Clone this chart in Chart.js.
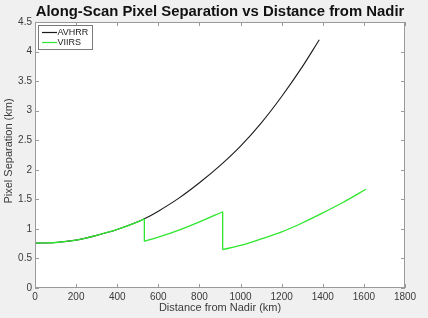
<!DOCTYPE html>
<html>
<head>
<meta charset="utf-8">
<script src="https://cdn.jsdelivr.net/npm/chart.js@4/dist/chart.umd.min.js"></script>
<style>
html,body{margin:0;padding:0;background:#f0f0f0;}
canvas{display:block;}
</style>
</head>
<body>
<canvas id="c" width="428" height="318"></canvas>
<script>
// ---- data ----
const titleText = "Along-Scan Pixel Separation vs Distance from Nadir";
const xTitle = "Distance from Nadir (km)";
const yTitle = "Pixel Separation (km)";
const seriesNames = ["AVHRR", "VIIRS"];
const xTicks = [0, 200, 400, 600, 800, 1000, 1200, 1400, 1600, 1800];
const yTicks = [0, 0.5, 1, 1.5, 2, 2.5, 3, 3.5, 4, 4.5];

const avhrrDist = [0, 100, 200, 300, 400, 500, 532, 600, 700, 800, 900, 1000, 1100, 1200, 1300, 1383];
const avhrrSep  = [0.76, 0.77, 0.81, 0.89, 0.99, 1.12, 1.17, 1.30, 1.52, 1.78, 2.07, 2.40, 2.79, 3.24, 3.74, 4.20];

const viirsDist = [0, 100, 200, 300, 400, 500, 532, 532, 600, 700, 800, 913, 913, 1000, 1100, 1200, 1300, 1400, 1500, 1610];
const viirsSep  = [0.76, 0.77, 0.81, 0.89, 0.99, 1.12, 1.17, 0.79, 0.86, 0.98, 1.12, 1.29, 0.65, 0.72, 0.83, 0.95, 1.10, 1.27, 1.45, 1.67];

const colors = ["#1a1a1a", "#2ee62e"];

function pts(xs, ys){ return xs.map((x,i)=>({x:x, y:ys[i]})); }

// split a series into smooth pieces and vertical jumps (where x repeats)
function pieces(xs, ys){
  const all = pts(xs, ys);
  const segs = [], jumps = [];
  let cur = [all[0]];
  for (let i = 1; i < all.length; i++){
    if (all[i].x === all[i-1].x){
      segs.push(cur);
      jumps.push([all[i-1], all[i]]);
      cur = [all[i]];
    } else cur.push(all[i]);
  }
  segs.push(cur);
  return {segs, jumps};
}

const FONT = "'Liberation Sans', Arial, Helvetica, sans-serif";
const AXIS_COLOR = "#9a9a9a";
const TEXT_COLOR = "#3a3a3a";

const decor = {
  id: 'decor',
  beforeDraw(chart){
    const {ctx, chartArea:a} = chart;
    ctx.save();
    ctx.fillStyle = '#f0f0f0';
    ctx.fillRect(0,0,chart.width,chart.height);
    ctx.fillStyle = '#ffffff';
    ctx.fillRect(a.left, a.top, a.right-a.left, a.bottom-a.top);
    ctx.restore();
  },
  afterDraw(chart){
    const {ctx, chartArea:a, scales} = chart;
    ctx.save();
    ctx.strokeStyle = AXIS_COLOR;
    ctx.lineWidth = 1;
    ctx.strokeRect(a.left+0.5, a.top+0.5, a.right-a.left-1, a.bottom-a.top-1);
    const tl = 4;
    ctx.beginPath();
    xTicks.forEach(v=>{
      const px = Math.round(scales.x.getPixelForValue(v))+0.5;
      ctx.moveTo(px, a.bottom); ctx.lineTo(px, a.bottom-tl);
      ctx.moveTo(px, a.top); ctx.lineTo(px, a.top+tl);
    });
    yTicks.forEach(v=>{
      const py = Math.round(scales.y.getPixelForValue(v))+0.5;
      ctx.moveTo(a.left, py); ctx.lineTo(a.left+tl, py);
      ctx.moveTo(a.right, py); ctx.lineTo(a.right-tl, py);
    });
    ctx.stroke();

    ctx.fillStyle = '#111111';
    let fs = 14;
    ctx.font = `bold ${fs}px ${FONT}`;
    const target = 369;
    const w = ctx.measureText(titleText).width;
    fs = fs * target / w;
    ctx.font = `bold ${fs}px ${FONT}`;
    ctx.textAlign = 'center';
    ctx.textBaseline = 'middle';
    ctx.fillText(titleText, (a.left+a.right)/2, 12);

    ctx.fillStyle = TEXT_COLOR;
    ctx.font = `11px ${FONT}`;
    ctx.fillText(xTitle, (a.left+a.right)/2, 308);
    ctx.save();
    ctx.translate(8.5, 151);
    ctx.rotate(-Math.PI/2);
    ctx.fillText(yTitle, 0, 0);
    ctx.restore();

    const lx = 38.5, ly = 25.5, lw = 54, lh = 24;
    ctx.fillStyle = '#ffffff';
    ctx.fillRect(lx, ly, lw, lh);
    ctx.strokeStyle = '#7a7a7a';
    ctx.lineWidth = 1;
    ctx.strokeRect(lx, ly, lw, lh);
    ctx.font = `9px ${FONT}`;
    ctx.textAlign = 'left';
    seriesNames.forEach((name,i)=>{
      const yy = 32 + i*10;
      ctx.strokeStyle = colors[i];
      ctx.lineWidth = 1.2;
      ctx.beginPath();
      ctx.moveTo(42, yy+0.5); ctx.lineTo(57, yy+0.5);
      ctx.stroke();
      ctx.fillStyle = '#222222';
      ctx.fillText(name, 57.5, yy+0.5);
    });
    ctx.restore();
  }
};

const lineStyle = (color, w, order) => ({
  showLine: true, borderColor: color, borderWidth: w, pointRadius: 0,
  cubicInterpolationMode: 'monotone', order: order
});

const datasets = [];
const av = pieces(avhrrDist, avhrrSep);
av.segs.forEach(s => datasets.push(Object.assign({label: seriesNames[0], data: s}, lineStyle(colors[0], 1.1, 1))));
av.jumps.forEach(s => datasets.push(Object.assign({label: seriesNames[0], data: s}, lineStyle(colors[0], 1.1, 1))));
const vi = pieces(viirsDist, viirsSep);
vi.segs.forEach(s => datasets.push(Object.assign({label: seriesNames[1], data: s}, lineStyle(colors[1], 1.3, 0))));
vi.jumps.forEach(s => datasets.push(Object.assign({label: seriesNames[1], data: s}, lineStyle(colors[1], 1.3, 0))));

new Chart(document.getElementById('c'), {
  type: 'scatter',
  data: { datasets },
  plugins: [decor],
  options: {
    responsive: false,
    devicePixelRatio: 1,
    animation: false,
    layout: { padding: { left: 0, right: 23, top: 22, bottom: 0 } },
    plugins: { legend: { display: false }, tooltip: { enabled: false }, title: { display: false } },
    scales: {
      x: {
        type: 'linear', min: 0, max: 1800,
        afterFit(s){ s.height = 30; },
        afterBuildTicks(s){ s.ticks = xTicks.map(v=>({value:v})); },
        grid: { display: false, drawTicks: false },
        border: { display: false },
        ticks: { padding: 3, maxRotation: 0, autoSkip: false, color: TEXT_COLOR,
                 font: { family: FONT, size: 10 }, callback: v => String(v) }
      },
      y: {
        type: 'linear', min: 0, max: 4.5,
        afterFit(s){ s.width = 35; },
        afterBuildTicks(s){ s.ticks = yTicks.map(v=>({value:v})); },
        grid: { display: false, drawTicks: false },
        border: { display: false },
        ticks: { padding: 3, autoSkip: false, color: TEXT_COLOR,
                 font: { family: FONT, size: 10 }, callback: v => String(v) }
      }
    }
  }
});
</script>
</body>
</html>
